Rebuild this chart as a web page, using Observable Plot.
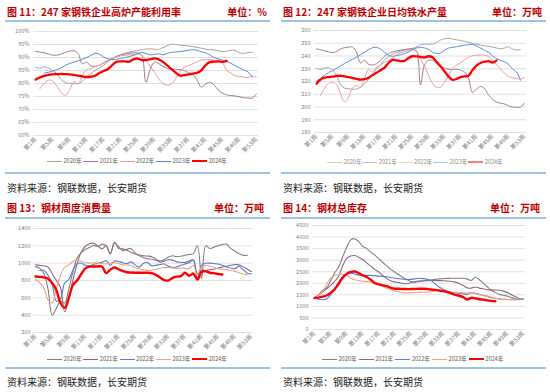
<!DOCTYPE html>
<html><head><meta charset="utf-8">
<script src="https://cdn.jsdelivr.net/npm/d3@7"></script>
<script src="https://cdn.jsdelivr.net/npm/@observablehq/plot@0.6"></script>
<style>
body{margin:0;width:550px;height:392px;position:relative;background:#fff;font-family:"Noto Sans CJK SC",sans-serif;overflow:hidden}
.abs{position:absolute;white-space:nowrap}
.title{font-size:10px;font-weight:bold;color:#C00000;line-height:14px}
.rule{position:absolute;height:1.5px;background:#9DC3E6}
.src{font-size:10px;color:#222;line-height:14px}
.leg{position:absolute;font-size:5.6px;color:#595959;line-height:8px;display:flex;align-items:center;white-space:nowrap}
.sw{display:inline-block;width:15px;margin-right:1.5px}
</style></head><body>
<script>
const xTicks = [1,5,9,13,17,21,25,29,33,37,41,45,49,53];
const yearNames = ["2020年","2021年","2022年","2023年","2024年"];

// 图11 高炉产能利用率 (%)
const util2020 = [86.3,85.8,86.5,86.0,85.0,83.8,81.5,80.4,80.0,79.9,80.0,80.8,82.5,83.8,85.0,86.0,87.0,88.3,89.5,90.4,91.1,91.6,92.0,92.4,92.7,93.0,93.3,93.3,93.2,93.1,93.8,94.6,95.1,95.0,94.8,94.6,94.4,94.2,93.9,93.6,93.2,93.0,92.9,92.6,92.3,92.4,92.8,92.7,91.8,91.6,91.9,92.0];
const util2021 = [92.3,92.1,91.8,91.4,90.9,90.9,91.3,92.0,92.4,92.6,91.5,87.6,88.2,86.8,86.6,87.0,88.0,88.9,89.6,90.3,90.9,91.3,91.6,91.8,91.8,90.8,80.4,85.5,88.2,87.6,86.6,85.8,85.4,85.5,85.3,85.0,84.2,83.5,81.5,78.6,79.8,80.5,79.5,77.5,76.3,75.6,75.4,75.2,74.9,74.5,74.4,74.4,76.0];
const util2022 = [null,78.0,80.0,81.3,81.0,79.0,76.5,75.4,77.5,80.8,79.8,83.0,85.4,85.6,86.5,87.0,87.8,88.6,89.5,90.2,90.6,90.8,91.0,91.2,91.4,90.8,89.0,86.5,84.3,81.8,80.0,79.3,79.8,82.0,84.5,86.2,86.9,87.6,88.3,89.0,89.2,89.2,89.0,88.8,88.0,85.0,84.0,83.0,82.7,82.4,82.3,82.7,82.5];
const util2023 = [null,null,84.0,84.3,84.8,85.3,86.0,87.0,87.7,88.2,88.7,89.3,90.0,90.8,91.6,91.3,90.2,89.5,89.2,89.3,89.6,90.0,90.3,90.8,91.4,92.0,91.5,91.0,91.2,91.4,91.0,91.6,92.0,92.1,92.3,92.5,92.8,93.0,92.8,92.2,91.8,91.0,90.0,89.5,89.0,88.5,87.8,86.8,86.0,85.2,84.5,82.5];
const util2024 = [81.5,82.3,82.9,83.3,83.5,83.6,83.7,83.6,83.5,83.3,83.0,82.7,82.5,82.6,83.0,84.0,84.8,85.5,87.0,88.3,88.5,88.5,88.4,89.3,89.6,89.0,89.0,89.3,89.7,89.3,88.3,87.0,85.5,84.2,83.0,83.2,83.5,83.8,84.1,85.0,87.0,88.2,88.4,88.5,88.3,88.7];

// 图12 日均铁水产量 (万吨)
const hm2020 = [230.5,229.5,230.5,230.8,229.0,224.5,217.5,214.8,214.2,214.0,214.0,215.5,218.0,221.5,225.5,230.0,233.5,237.0,239.5,241.5,242.8,243.8,244.6,245.4,246.0,247.0,248.8,249.3,249.2,249.3,250.5,252.5,253.5,254.0,253.3,252.7,252.2,251.5,250.8,249.8,249.3,248.6,248.0,247.7,247.0,246.3,245.6,246.3,247.2,245.5,244.8,245.0];
const hm2021 = [245.6,245.0,244.0,243.3,242.5,243.5,245.5,246.5,247.0,247.0,243.0,234.5,236.7,233.5,233.0,234.0,236.5,239.8,242.0,243.3,244.0,244.6,245.1,245.5,245.6,244.0,217.3,233.0,236.5,236.5,234.0,232.0,230.5,229.8,229.4,229.6,229.0,227.5,222.5,211.5,214.0,216.2,214.5,209.5,206.0,204.0,203.0,202.4,201.0,200.0,199.8,199.9,203.0];
const hm2022 = [null,209.0,214.5,218.5,219.3,217.5,210.5,204.0,207.5,215.0,217.0,215.5,222.0,229.5,227.5,231.0,233.0,235.0,236.4,238.5,241.0,242.5,243.5,244.3,245.0,243.5,237.5,232.0,225.0,218.5,215.5,215.5,219.5,224.5,230.0,233.0,234.6,237.0,239.0,240.2,240.6,240.9,240.5,239.8,237.0,233.0,229.9,226.5,224.0,223.0,222.3,222.0,223.0];
const hm2023 = [220.5,222.5,225.0,227.0,228.5,230.3,232.2,234.0,235.8,237.5,239.0,241.0,243.0,245.0,246.5,246.8,245.5,243.0,240.5,239.8,240.2,241.0,241.8,243.2,245.0,246.3,246.8,246.3,245.2,243.0,242.0,242.3,244.5,246.2,246.8,247.3,248.0,248.5,248.8,249.0,248.0,246.3,244.5,243.0,240.0,238.0,236.5,235.5,233.5,229.8,227.5,221.0];
const hm2024 = [218.3,221.5,223.0,223.5,223.8,224.3,224.5,224.0,223.5,222.8,222.0,221.5,221.8,223.0,225.0,226.8,228.8,230.8,234.5,237.0,236.5,236.0,236.2,238.5,239.8,239.7,239.3,238.9,239.8,239.0,235.5,232.0,228.0,224.0,221.3,222.0,223.5,224.0,224.5,229.0,232.5,234.5,235.5,236.0,234.8,236.4];

// 图13 钢材周度消费量 (万吨)
const cons2020 = [960,940,880,700,400,480,560,540,700,900,1060,1120,1160,1180,1205,1190,1220,1200,1110,1235,1190,1145,1160,1170,1115,1085,1065,1050,1046,1035,1027,1040,1070,1085,1075,1080,1092,1100,1110,1200,820,1200,1170,1185,1200,1215,1220,1170,1140,1110,1090,1090];
const cons2021 = [980,975,970,955,880,800,720,440,580,810,990,1130,1195,1225,1230,1200,1165,1200,1105,1240,1170,1165,1150,1125,1105,1095,1085,1082,1075,1046,1010,1025,1040,1035,1015,1010,1008,1025,1038,875,920,915,925,930,945,955,965,975,985,980,960,930,900];
const cons2022 = [null,915,915,860,760,560,590,770,810,920,995,1000,975,970,985,1000,1010,1027,975,1025,1020,1005,995,1015,980,955,1000,1005,970,975,985,990,965,950,955,975,990,1005,1035,820,975,1000,1000,995,990,975,955,945,935,965,925,885,875];
const cons2023 = [815,775,715,575,545,700,860,950,980,1020,1035,1020,1005,1000,1005,1000,995,990,1000,1008,995,980,978,975,950,935,925,915,920,930,945,948,950,945,940,945,940,938,975,835,950,975,965,950,935,930,925,915,905,890,875,865];
const cons2024 = [846,842,835,820,770,690,540,485,600,750,800,875,940,960,962,962,962,885,925,950,930,910,895,892,890,890,890,890,885,865,835,805,800,830,845,850,890,855,880,810,900,905,890,885,875,870];

// 图14 钢材总库存 (万吨)
const inv2020 = [1380,1500,1700,1800,2100,2450,2700,3150,3550,3880,3930,3800,3600,3500,3350,3220,3070,2900,2750,2600,2480,2370,2250,2150,2080,2050,2070,2100,2120,2150,2170,2190,2200,2210,2215,2220,2220,2215,2180,2120,2260,2150,2005,1850,1700,1600,1520,1480,1440,1380,1330,1290];
const inv2021 = [1370,1480,1620,1760,1900,2080,2300,2750,3080,3180,3200,3130,3030,2880,2740,2600,2480,2330,2200,2100,2060,2030,1990,1980,2020,2070,2100,2110,2115,2120,2120,2115,2110,2100,2080,2050,1990,1900,1800,1790,1840,1790,1760,1720,1715,1710,1695,1660,1600,1500,1420,1330,1310];
const inv2022 = [1360,1310,1290,1320,1500,1760,2050,2300,2410,2440,2400,2360,2340,2340,2340,2330,2310,2300,2280,2250,2220,2195,2180,2165,2170,2190,2220,2200,2170,2120,1980,1840,1740,1660,1610,1590,1570,1540,1520,1590,1570,1520,1480,1440,1380,1350,1330,1310,1300,1290,1290,1310,1320];
const inv2023 = [1360,1480,1650,1950,2220,2340,2380,2390,2350,2230,2150,2120,2090,2070,2060,2010,1950,1870,1790,1720,1670,1620,1590,1580,1590,1600,1605,1610,1615,1630,1680,1680,1650,1630,1615,1610,1600,1590,1580,1590,1550,1510,1470,1430,1400,1350,1320,1305,1300,1300,1310,1330];
const inv2024 = [1360,1380,1420,1470,1580,1740,1975,2240,2400,2490,2510,2440,2340,2270,2150,2010,1950,1910,1875,1800,1765,1760,1755,1745,1750,1755,1760,1760,1750,1730,1710,1690,1660,1620,1560,1500,1460,1400,1300,1370,1350,1310,1290,1260,1240,1225];

const topColors = ["#A3A3A3","#A07C90","#F09A9E","#5B8BDB","#FF0000"];
const botColors = ["#808080","#8C6A85","#4F7FD6","#F8A27A","#FF0000"];

const panels = [
  {title:"图 11：247 家钢铁企业高炉产能利用率", unit:"单位：%", series:[util2020,util2021,util2022,util2023,util2024],
   colors:topColors, widths:[1,1,1,1,2.3], yDomain:[60,100], yTicks:d3.range(60,101,5), yFmt:d=>d+"%",
   left:0, top:25, height:135, ml:33, mr:17, mt:6, mb:25, pad:4,
   px:5, titleTop:5, unitRight:283, ruleTop:20, legTop:157, legX:47, legStep:36.3, legOp:1, sepTop:172, srcTop:181},
  {title:"图 12：247 家钢铁企业日均铁水产量", unit:"单位：万吨", series:[hm2020,hm2021,hm2022,hm2023,hm2024],
   colors:topColors, widths:[1,1,1,1,2.3], yDomain:[180,260], yTicks:d3.range(180,261,10), yFmt:d=>String(d),
   left:275, top:25, height:135, ml:39, mr:24, mt:5, mb:28, pad:4,
   px:281, titleTop:5, unitRight:8, ruleTop:20, legTop:158, legX:327, legStep:35.3, legOp:0.5, sepTop:172, srcTop:181},
  {title:"图 13：钢材周度消费量", unit:"单位：万吨", series:[cons2020,cons2021,cons2022,cons2023,cons2024],
   colors:botColors, widths:[1.1,1.1,1.1,1.1,2.4], yDomain:[200,1400], yTicks:d3.range(200,1401,200), yFmt:d=>String(d),
   left:0, top:222, height:130, ml:33, mr:22, mt:6, mb:20, pad:3,
   px:5, titleTop:201, unitRight:286, ruleTop:217, legTop:355, legX:47, legStep:36.3, legOp:1, sepTop:367, srcTop:375},
  {title:"图 14：钢材总库存", unit:"单位：万吨", series:[inv2020,inv2021,inv2022,inv2023,inv2024],
   colors:botColors, widths:[1.1,1.1,1.1,1.1,2.4], yDomain:[0,4500], yTicks:d3.range(0,4501,500), yFmt:d=>String(d),
   left:275, top:222, height:130, ml:37, mr:25, mt:3, mb:23, pad:4,
   px:281, titleTop:201, unitRight:10, ruleTop:217, legTop:355, legX:322, legStep:36.7, legOp:1, sepTop:367, srcTop:375}
];

function add(html, cls, style){
  const el = document.createElement("div");
  el.className = cls; el.innerHTML = html;
  Object.assign(el.style, style);
  document.body.appendChild(el);
  return el;
}

panels.forEach(p => {
  add(p.title, "abs title", {left:(p.px+2)+"px", top:p.titleTop+"px"});
  add(p.unit, "abs title", {right:p.unitRight+"px", top:p.titleTop+"px"});
  add("", "rule", {left:p.px+"px", width:"265px", top:p.ruleTop+"px"});
  add("", "rule", {left:p.px+"px", width:"265px", top:p.sepTop+"px"});
  add("资料来源：钢联数据，长安期货", "abs src", {left:(p.px+2)+"px", top:p.srcTop+"px"});

  const marks = [
    Plot.gridY(p.yTicks, {stroke:"#D9D9D9", strokeOpacity:1, strokeWidth:0.8}),
    Plot.axisY(p.yTicks, {tickSize:0, tickPadding:p.pad, tickFormat:p.yFmt, fontSize:5.6, color:"#808080", label:null}),
    Plot.axisX(xTicks, {tickSize:0, tickPadding:3, tickRotate:-45, tickFormat:d=>`第${d}周`, fontSize:6, color:"#808080", label:null})
  ];
  p.series.forEach((arr, i) => {
    const data = arr.map((v,k)=>({week:k+1, value:v})).filter(d=>d.value!=null);
    marks.push(Plot.line(data, {x:"week", y:"value", stroke:p.colors[i], strokeWidth:p.widths[i], curve:"catmull-rom"}));
  });
  const svg = Plot.plot({
    width:275, height:p.height,
    marginLeft:p.ml, marginRight:p.mr, marginTop:p.mt, marginBottom:p.mb,
    x:{type:"linear", domain:[0.5,53.5], label:null},
    y:{domain:p.yDomain, label:null},
    style:{background:"transparent", fontFamily:"'Noto Sans CJK SC', sans-serif", overflow:"visible"},
    marks
  });
  svg.style.position = "absolute";
  svg.style.left = p.left+"px";
  svg.style.top = p.top+"px";
  document.body.appendChild(svg);

  yearNames.forEach((name,i)=>{
    add(`<span class="sw" style="border-top:${i===4?2.5:1.3}px solid ${p.colors[i]};opacity:${p.legOp}"></span><span style="opacity:${p.legOp<1?0.7:1}">${name}</span>`,
      "leg", {left:(p.legX + i*p.legStep)+"px", top:p.legTop+"px"});
  });
});
</script>
</body></html>
